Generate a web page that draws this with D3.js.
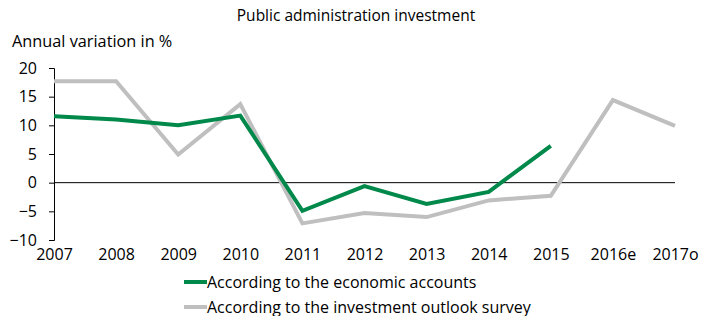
<!DOCTYPE html>
<html><head><meta charset="utf-8">
<script src="https://cdn.jsdelivr.net/npm/d3@7"></script>
<style>
body{margin:0;background:#fff;}
svg{display:block;font-family:"Open Sans",sans-serif;}
</style></head>
<body>
<svg id="c" width="712" height="316"></svg>
<script>
const years = ["2007","2008","2009","2010","2011","2012","2013","2014","2015","2016e","2017o"];
const economicAccounts = [11.6, 11.0, 10.0, 11.7, -4.9, -0.6, -3.7, -1.6, 6.4, null, null];
const outlookSurvey = [17.7, 17.7, 4.9, 13.7, -7.1, -5.3, -6.0, -3.1, -2.3, 14.4, 9.9];
const yTicks = [20, 15, 10, 5, 0, -5, -10];
const seriesNames = ["According to the economic accounts", "According to the investment outlook survey"];
const seriesColors = ["#00894a", "#bfbfbf"];

const svg = d3.select("#c");
const x = d3.scalePoint().domain(years).range([54, 675]);
const y = d3.scaleLinear().domain([-10, 20]).range([240, 68]);

svg.append("text").attr("x", 356).attr("y", 21).attr("text-anchor", "middle")
  .attr("font-size", 15.5).attr("fill", "#000").text("Public administration investment");
svg.append("text").attr("x", 12).attr("y", 47)
  .attr("font-size", 16.3).attr("fill", "#000").text("Annual variation in %");

const ya = svg.append("g").attr("transform", "translate(54,0)")
  .call(d3.axisLeft(y).tickValues(yTicks).tickSize(5).tickPadding(12).tickFormat(d3.format("d")));
ya.select(".domain").attr("stroke", "#000").attr("stroke-width", 1);
ya.selectAll(".tick line").attr("stroke", "#000");
ya.selectAll("text").attr("font-size", 16).attr("font-family", "Open Sans").attr("fill", "#000");

svg.append("line").attr("x1", 54).attr("x2", 675).attr("y1", y(0)).attr("y2", y(0))
  .attr("stroke", "#000").attr("stroke-width", 1);

const xa = svg.append("g").attr("transform", "translate(0,249)")
  .call(d3.axisBottom(x).tickSize(0).tickPadding(0));
xa.select(".domain").remove();
xa.selectAll("text").attr("font-size", 16).attr("font-family", "Open Sans").attr("fill", "#000");

const line = d3.line().defined(d => d.v !== null).x(d => x(d.k)).y(d => y(d.v));
[outlookSurvey, economicAccounts].forEach((arr, i) => {
  const idx = i === 0 ? 1 : 0;
  svg.append("path").datum(years.map((k, j) => ({k, v: arr[j]})))
    .attr("fill", "none").attr("stroke", seriesColors[idx]).attr("stroke-width", 4)
    .attr("stroke-linejoin", "miter").attr("d", line);
});

const lg = svg.append("g");
seriesNames.forEach((n, i) => {
  const yy = 282 + i * 25;
  lg.append("line").attr("x1", 184).attr("x2", 207).attr("y1", yy).attr("y2", yy)
    .attr("stroke", seriesColors[i]).attr("stroke-width", 4);
  lg.append("text").attr("x", 207).attr("y", yy + 5.5).attr("font-size", 16)
    .attr("fill", "#000").text(n);
});
</script>
</body></html>
